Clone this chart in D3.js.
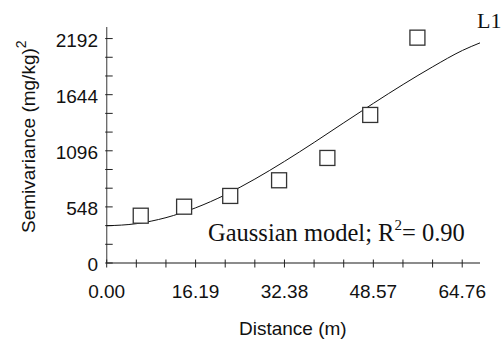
<!DOCTYPE html>
<html>
<head>
<meta charset="utf-8">
<script src="https://cdn.jsdelivr.net/npm/d3@7"></script>
<style>
  body { margin: 0; background: #fff; }
  svg { display: block; }
</style>
</head>
<body>
<script>
// Werte
const lagDistance = [6.2, 14.1, 22.5, 31.4, 40.2, 48.0, 56.6]
const semivariance = [462, 550, 655, 808, 1026, 1446, 2201]

const modelDistance = [0, 5.4, 10.8, 16.2, 21.6, 27, 32.4, 37.8, 43.2, 48.6, 54, 59.4, 64.8, 68]
const modelValue = [364, 384, 443, 539, 666, 820, 993, 1178, 1370, 1560, 1744, 1917, 2076, 2150]

const xTickLabels = [0, 16.19, 32.38, 48.57, 64.76]
const yTickLabels = [0, 548, 1096, 1644, 2192]

const width = 503
const height = 339

const svg = d3.select("body").append("svg")
    .attr("width", width)
    .attr("height", height)

const x = d3.scaleLinear().domain([0, 68]).range([106.7, 480])
const y = d3.scaleLinear().domain([0, 2305]).range([263, 27])

const sans = "'Liberation Sans', Arial, sans-serif"
const serif = "'Liberation Serif', 'Times New Roman', serif"

//Achsen
svg.append("line")
    .attr("x1", x(0)).attr("x2", x(0))
    .attr("y1", y(2305)).attr("y2", y(0))
    .attr("stroke", "#666").attr("stroke-width", 1.3)
svg.append("line")
    .attr("x1", x(0)).attr("x2", x(68))
    .attr("y1", y(0)).attr("y2", y(0))
    .attr("stroke", "#666").attr("stroke-width", 1.3)

// kleine Ticks: 3 pro Beschriftung
const yTicks = d3.range(0, 13).map(i => i * 548 / 3)
const xTicks = d3.range(0, 13).map(i => i * 16.19 / 3)

svg.append("g").selectAll("line")
    .data(yTicks)
    .enter().append("line")
        .attr("x1", x(0) - 1.5).attr("x2", x(0) + 6)
        .attr("y1", d => y(d)).attr("y2", d => y(d))
        .attr("stroke", "#222").attr("stroke-width", 1)

svg.append("g").selectAll("line")
    .data(xTicks)
    .enter().append("line")
        .attr("x1", d => x(d)).attr("x2", d => x(d))
        .attr("y1", y(0) - 3.5).attr("y2", y(0) + 4.5)
        .attr("stroke", "#222").attr("stroke-width", 1)

svg.append("g").selectAll("text")
    .data(yTickLabels)
    .enter().append("text")
        .attr("x", 98)
        .attr("y", d => y(d) + 8)
        .attr("text-anchor", "end")
        .style("font-family", sans)
        .style("font-size", "19px")
        .attr("fill", "#111")
        .text(d => d)

svg.append("g").selectAll("text")
    .data(xTickLabels)
    .enter().append("text")
        .attr("x", d => x(d))
        .attr("y", 298)
        .attr("text-anchor", "middle")
        .style("font-family", sans)
        .style("font-size", "19px")
        .attr("fill", "#111")
        .text(d => d.toFixed(2))

//Achsentitel
svg.append("text")
    .attr("x", x(0) + (480 - x(0)) / 2 - 0.5)
    .attr("y", 335)
    .attr("text-anchor", "middle")
    .style("font-family", sans)
    .style("font-size", "19px")
    .attr("fill", "#111")
    .text("Distance (m)")

const yTitle = svg.append("text")
    .attr("transform", "translate(35,233) rotate(-90)")
    .style("font-family", sans)
    .style("font-size", "19px")
    .attr("fill", "#111")
yTitle.append("tspan").text("Semivariance (mg/kg)")
yTitle.append("tspan").attr("dy", -9).style("font-size", "14px").text("2")

//Modellkurve
const line = d3.line()
    .x(d => x(d[0]))
    .y(d => y(d[1]))
    .curve(d3.curveMonotoneX)

svg.append("path")
    .datum(modelDistance.map((d, i) => [d, modelValue[i]]))
    .attr("d", line)
    .attr("fill", "none")
    .attr("stroke", "#111")
    .attr("stroke-width", 1)

//Quadrate
const s = 15
svg.append("g").selectAll("rect")
    .data(lagDistance.map((d, i) => ({ dist: d, value: semivariance[i] })))
    .enter().append("rect")
        .attr("x", d => x(d.dist) - s / 2)
        .attr("y", d => y(d.value) - s / 2)
        .attr("width", s)
        .attr("height", s)
        .attr("fill", "#fff")
        .attr("stroke", "#333")
        .attr("stroke-width", 1.3)

//Beschriftungen
svg.append("text")
    .attr("x", 477)
    .attr("y", 28)
    .style("font-family", serif)
    .style("font-size", "22px")
    .attr("fill", "#111")
    .text("L1")

const model = svg.append("text")
    .attr("x", 208)
    .attr("y", 241)
    .style("font-family", serif)
    .style("font-size", "24.5px")
    .attr("fill", "#111")
model.append("tspan").text("Gaussian model; R")
model.append("tspan").attr("dy", -11).style("font-size", "15px").text("2")
model.append("tspan").attr("dy", 11).text("= 0.90")
</script>
</body>
</html>
